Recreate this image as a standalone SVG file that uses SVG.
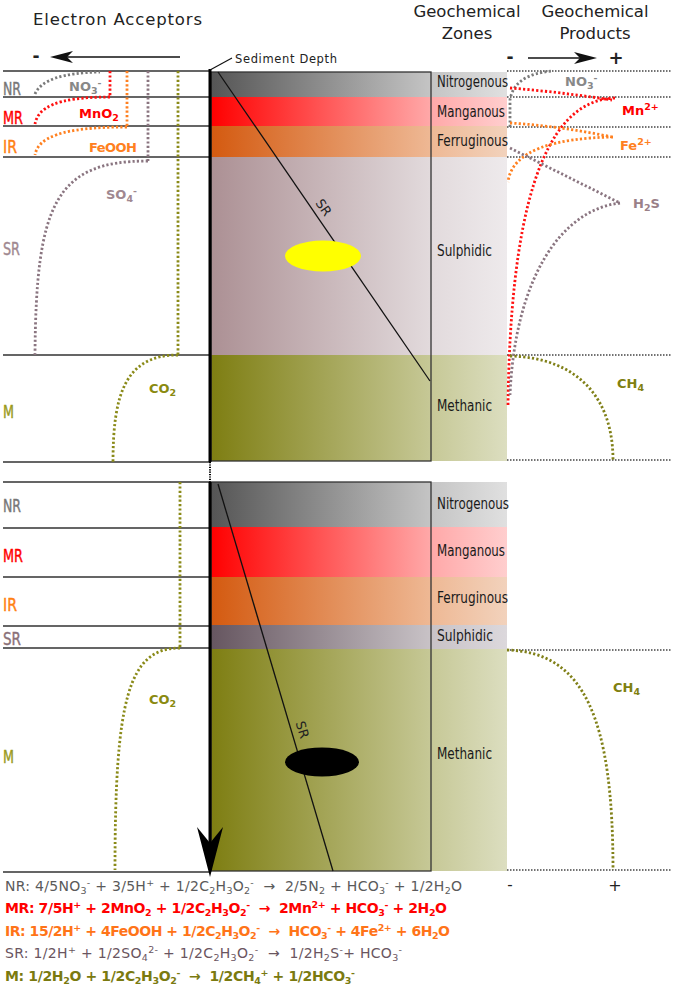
<svg xmlns="http://www.w3.org/2000/svg" width="675" height="992" viewBox="0 0 675 992">
<style>
.t{font-family:"DejaVu Sans","Liberation Sans",sans-serif;fill:#222}
.z{font-family:"DejaVu Sans Condensed","DejaVu Sans",sans-serif;font-stretch:condensed;font-size:16.5px;fill:#1a1a1a}
.lb{font-family:"DejaVu Sans Condensed","DejaVu Sans",sans-serif;font-stretch:condensed;font-size:18.5px;stroke-width:0.4}
.ch{font-family:"DejaVu Sans","Liberation Sans",sans-serif;font-weight:bold;font-size:13px}
.eq{font-family:"DejaVu Sans","Liberation Sans",sans-serif;font-size:14px}
.b{font-weight:bold}
.sb{font-size:9.5px;baseline-shift:-3px}
.sp{font-size:9.5px;baseline-shift:5px}
.hl{stroke:#333;stroke-width:1.5;fill:none}
.rd{stroke:#444;stroke-width:1.3;stroke-dasharray:1.5 1.5;fill:none}
.dot{fill:none;stroke-width:2.8;stroke-dasharray:2.2 2.2}
.box{fill:none;stroke:#333;stroke-width:1.3}
</style>
<defs>
<linearGradient id="gN" x1="0" x2="1" y1="0" y2="0"><stop offset="0" stop-color="#555"/><stop offset="0.74" stop-color="#c4c4c4"/><stop offset="1" stop-color="#e0e0e0"/></linearGradient>
<linearGradient id="gM" x1="0" x2="1" y1="0" y2="0"><stop offset="0" stop-color="#ff0000"/><stop offset="0.74" stop-color="#ffa8a8"/><stop offset="1" stop-color="#ffcece"/></linearGradient>
<linearGradient id="gF" x1="0" x2="1" y1="0" y2="0"><stop offset="0" stop-color="#d45a10"/><stop offset="0.74" stop-color="#eeb894"/><stop offset="1" stop-color="#f2d2bc"/></linearGradient>
<linearGradient id="gS" x1="0" x2="1" y1="0" y2="0"><stop offset="0" stop-color="#ac9094"/><stop offset="0.74" stop-color="#e2dadc"/><stop offset="1" stop-color="#eeeaec"/></linearGradient>
<linearGradient id="gS2" x1="0" x2="1" y1="0" y2="0"><stop offset="0" stop-color="#665660"/><stop offset="0.74" stop-color="#c8c2c6"/><stop offset="1" stop-color="#dcd8dc"/></linearGradient>
<linearGradient id="gC" x1="0" x2="1" y1="0" y2="0"><stop offset="0" stop-color="#7e7e12"/><stop offset="0.74" stop-color="#c6c896"/><stop offset="1" stop-color="#dcdec0"/></linearGradient>
</defs>
<rect width="675" height="992" fill="#fff"/>

<g id="titles">
<text class="t" x="33" y="25" font-size="16.5" textLength="169">Electron Acceptors</text>
<text class="t" x="467" y="17" font-size="16.5" text-anchor="middle">Geochemical</text>
<text class="t" x="467" y="39" font-size="16.5" text-anchor="middle">Zones</text>
<text class="t" x="595" y="17" font-size="16.5" text-anchor="middle">Geochemical</text>
<text class="t" x="595" y="39" font-size="16.5" text-anchor="middle">Products</text>
<text class="t" x="36" y="62" font-size="17" font-weight="bold" text-anchor="middle">-</text>
<text class="t" x="510" y="63" font-size="17" font-weight="bold" text-anchor="middle">-</text>
<text class="t" x="616" y="64" font-size="18" font-weight="bold" text-anchor="middle">+</text>
<text class="t" x="510" y="890" font-size="15" text-anchor="middle">-</text>
<text class="t" x="615" y="891" font-size="16" text-anchor="middle">+</text>
<text class="t" x="235" y="63" font-size="11.5" textLength="102">Sediment Depth</text>
</g>

<g id="top-section">
<rect x="211" y="72" width="296" height="25" fill="url(#gN)"/>
<rect x="211" y="97" width="296" height="29" fill="url(#gM)"/>
<rect x="211" y="126" width="296" height="31" fill="url(#gF)"/>
<rect x="211" y="157" width="296" height="198" fill="url(#gS)"/>
<rect x="211" y="355" width="296" height="106" fill="url(#gC)"/>
<rect class="box" x="211" y="72" width="220" height="389"/>
<line x1="218" y1="72" x2="430" y2="381" stroke="#111" stroke-width="1.3"/>
<text class="t" font-size="13" text-anchor="middle" transform="translate(320,210) rotate(55.4)">SR</text>
<ellipse cx="323" cy="256" rx="38" ry="15.5" fill="#ffff00"/>
<text class="z" x="437" y="87" textLength="71" lengthAdjust="spacingAndGlyphs">Nitrogenous</text>
<text class="z" x="437" y="117" textLength="68" lengthAdjust="spacingAndGlyphs">Manganous</text>
<text class="z" x="437" y="146" textLength="71" lengthAdjust="spacingAndGlyphs">Ferruginous</text>
<text class="z" x="437" y="256" textLength="55" lengthAdjust="spacingAndGlyphs">Sulphidic</text>
<text class="z" x="437" y="411" textLength="55" lengthAdjust="spacingAndGlyphs">Methanic</text>
</g>

<g id="bottom-section">
<rect x="211" y="482" width="296" height="45" fill="url(#gN)"/>
<rect x="211" y="527" width="296" height="50" fill="url(#gM)"/>
<rect x="211" y="577" width="296" height="48" fill="url(#gF)"/>
<rect x="211" y="625" width="296" height="24" fill="url(#gS2)"/>
<rect x="211" y="649" width="296" height="222" fill="url(#gC)"/>
<rect class="box" x="211" y="482" width="220" height="389"/>
<line x1="218" y1="484" x2="333" y2="871" stroke="#111" stroke-width="1.3"/>
<text class="t" font-size="13" text-anchor="middle" transform="translate(298,731) rotate(73.4)">SR</text>
<ellipse cx="322" cy="762" rx="37" ry="14.5" fill="#000"/>
<text class="z" x="437" y="509" textLength="72" lengthAdjust="spacingAndGlyphs">Nitrogenous</text>
<text class="z" x="437" y="556" textLength="68" lengthAdjust="spacingAndGlyphs">Manganous</text>
<text class="z" x="437" y="603" textLength="71" lengthAdjust="spacingAndGlyphs">Ferruginous</text>
<text class="z" x="437" y="641" textLength="56" lengthAdjust="spacingAndGlyphs">Sulphidic</text>
<text class="z" x="437" y="759" textLength="55" lengthAdjust="spacingAndGlyphs">Methanic</text>
</g>

<g id="left-labels">
<text class="lb" x="3" y="95" fill="#777" stroke="#777" textLength="18" lengthAdjust="spacingAndGlyphs">NR</text>
<text class="lb" x="3" y="124" fill="#ff0000" stroke="#ff0000" textLength="20" lengthAdjust="spacingAndGlyphs">MR</text>
<text class="lb" x="3" y="153" fill="#ff8010" stroke="#ff8010" textLength="14" lengthAdjust="spacingAndGlyphs">IR</text>
<text class="lb" x="3" y="255" fill="#a08890" stroke="#a08890" textLength="17" lengthAdjust="spacingAndGlyphs">SR</text>
<text class="lb" x="3" y="418" fill="#9a9a20" stroke="#9a9a20" textLength="11" lengthAdjust="spacingAndGlyphs">M</text>
<text class="lb" x="3" y="512" fill="#777" stroke="#777" textLength="18" lengthAdjust="spacingAndGlyphs">NR</text>
<text class="lb" x="3" y="562" fill="#ff0000" stroke="#ff0000" textLength="20" lengthAdjust="spacingAndGlyphs">MR</text>
<text class="lb" x="3" y="611" fill="#ff8010" stroke="#ff8010" textLength="14" lengthAdjust="spacingAndGlyphs">IR</text>
<text class="lb" x="3" y="645" fill="#8a7078" stroke="#8a7078" textLength="18" lengthAdjust="spacingAndGlyphs">SR</text>
<text class="lb" x="3" y="763" fill="#9a9a20" stroke="#9a9a20" textLength="11" lengthAdjust="spacingAndGlyphs">M</text>
</g>

<g id="species">
<text class="ch" x="69" y="91" fill="#888">NO<tspan class="sb">3</tspan><tspan class="sp">-</tspan></text>
<text class="ch" x="79" y="118" fill="#ff0000">MnO<tspan class="sb">2</tspan></text>
<text class="ch" x="89" y="152" fill="#ff8020" textLength="48">FeOOH</text>
<text class="ch" x="106" y="199" fill="#a08890">SO<tspan class="sb">4</tspan><tspan class="sp">-</tspan></text>
<text class="ch" x="149" y="393" fill="#8a8a10">CO<tspan class="sb">2</tspan></text>
<text class="ch" x="149" y="704" fill="#8a8a10">CO<tspan class="sb">2</tspan></text>
<text class="ch" x="565" y="86" fill="#888">NO<tspan class="sb">3</tspan><tspan class="sp">-</tspan></text>
<text class="ch" x="622" y="115" fill="#ff0000">Mn<tspan class="sp">2+</tspan></text>
<text class="ch" x="620" y="150" fill="#ff8020">Fe<tspan class="sp">2+</tspan></text>
<text class="ch" x="633" y="208" fill="#9a8088">H<tspan class="sb">2</tspan>S</text>
<text class="ch" x="617" y="388" fill="#808010">CH<tspan class="sb">4</tspan></text>
<text class="ch" x="613" y="692" fill="#808010">CH<tspan class="sb">4</tspan></text>
</g>

<g id="connectors">
<path class="hl" d="M3,71H210M3,97H210M3,126H210M3,157H210M3,355H210M3,462H210"/>
<path class="hl" d="M3,482H210M3,528H210M3,577H210M3,626H210M3,648H210M3,872H210"/>
<path class="rd" d="M507,71H672M507,97H672M507,127H672M507,157H672M507,355H672M507,460H672M507,650H672M507,870H672"/>
<line x1="210" y1="69" x2="210" y2="462" stroke="#000" stroke-width="3"/>
<line x1="210" y1="462" x2="210" y2="482" stroke="#000" stroke-width="2" stroke-dasharray="1.2 1.2"/>
<line x1="210" y1="482" x2="210" y2="850" stroke="#000" stroke-width="3"/>
<path d="M210,877L197,827L210,843L223,827Z" fill="#000"/>
<line x1="210" y1="70" x2="232" y2="58" stroke="#111" stroke-width="1.1"/>
<line x1="180" y1="57" x2="62" y2="57" stroke="#111" stroke-width="1.6"/>
<path d="M50,57L73,51L67,57L73,63Z" fill="#111"/>
<line x1="528" y1="58" x2="586" y2="58" stroke="#111" stroke-width="1.6"/>
<path d="M597,58L574,52L580,58L574,64Z" fill="#111"/>

<path class="dot" stroke="#7a7a7a" d="M35,94Q44,73 100,72"/>
<path class="dot" stroke="#ff1010" d="M110,71V97M110,97C55,97 38,108 35,124"/>
<path class="dot" stroke="#ff8020" d="M127,71V127M127,127C60,127 38,138 35,155"/>
<path class="dot" stroke="#8a7580" d="M148,71V161M148,161C55,161 36,205 35,355"/>
<path class="dot" stroke="#8a8a18" d="M178,71V355M178,355C125,355 113,395 113,462"/>
<path class="dot" stroke="#8a8a18" d="M180,482V648M180,648C128,648 115,700 115,870"/>

<path class="dot" stroke="#7a7a7a" d="M510,127V100Q514,74 553,71"/>
<path class="dot" stroke="#ff1010" d="M510,88Q560,92 612,100M615,98C540,100 510,220 508,407"/>
<path class="dot" stroke="#ff8020" d="M510,123Q560,126 612,137M613,137C555,138 512,150 508,182"/>
<path class="dot" stroke="#8a7580" d="M510,148L620,203M620,203C560,210 515,280 510,395"/>
<path class="dot" stroke="#808018" d="M510,356C580,358 613,400 613,460"/>
<path class="dot" stroke="#808018" d="M507,650C585,652 613,720 613,870"/>
</g>

<g id="equations">
<text class="eq" x="5" y="891" fill="#5a5a5a" textLength="457">NR: 4/5NO<tspan class="sb">3</tspan><tspan class="sp">-</tspan> + 3/5H<tspan class="sp">+</tspan> + 1/2C<tspan class="sb">2</tspan>H<tspan class="sb">3</tspan>O<tspan class="sb">2</tspan><tspan class="sp">-</tspan>&#160; →&#160; 2/5N<tspan class="sb">2</tspan> + HCO<tspan class="sb">3</tspan><tspan class="sp">-</tspan> + 1/2H<tspan class="sb">2</tspan>O</text>
<text class="eq b" x="5" y="913" fill="#ff0000" textLength="442">MR: 7/5H<tspan class="sp">+</tspan> + 2MnO<tspan class="sb">2</tspan> + 1/2C<tspan class="sb">2</tspan>H<tspan class="sb">3</tspan>O<tspan class="sb">2</tspan><tspan class="sp">-</tspan>&#160; →&#160; 2Mn<tspan class="sp">2+</tspan> + HCO<tspan class="sb">3</tspan><tspan class="sp">-</tspan> + 2H<tspan class="sb">2</tspan>O</text>
<text class="eq b" x="5" y="936" fill="#ff7418" textLength="445">IR: 15/2H<tspan class="sp">+</tspan> + 4FeOOH + 1/2C<tspan class="sb">2</tspan>H<tspan class="sb">3</tspan>O<tspan class="sb">2</tspan><tspan class="sp">-</tspan>&#160; →&#160; HCO<tspan class="sb">3</tspan><tspan class="sp">-</tspan> + 4Fe<tspan class="sp">2+</tspan> + 6H<tspan class="sb">2</tspan>O</text>
<text class="eq" x="5" y="958" fill="#6a5560" textLength="397">SR: 1/2H<tspan class="sp">+</tspan> + 1/2SO<tspan class="sb">4</tspan><tspan class="sp">2-</tspan> + 1/2C<tspan class="sb">2</tspan>H<tspan class="sb">3</tspan>O<tspan class="sb">2</tspan><tspan class="sp">-</tspan>&#160; →&#160; 1/2H<tspan class="sb">2</tspan>S<tspan class="sp">-</tspan>+ HCO<tspan class="sb">3</tspan><tspan class="sp">-</tspan></text>
<text class="eq b" x="5" y="981" fill="#7a7a10" textLength="350">M: 1/2H<tspan class="sb">2</tspan>O + 1/2C<tspan class="sb">2</tspan>H<tspan class="sb">3</tspan>O<tspan class="sb">2</tspan><tspan class="sp">-</tspan>&#160; →&#160; 1/2CH<tspan class="sb">4</tspan><tspan class="sp">+</tspan> + 1/2HCO<tspan class="sb">3</tspan><tspan class="sp">-</tspan></text>
</g>
</svg>
